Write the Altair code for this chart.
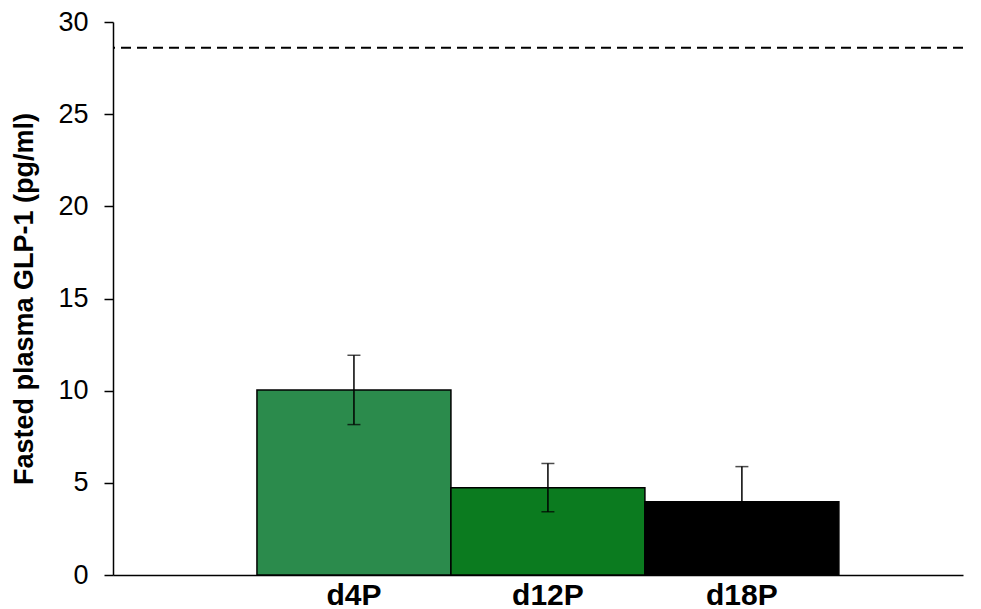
import altair as alt
import pandas as pd

# Fasted plasma GLP-1 by day of pregnancy
groups = ["d4P", "d12P", "d18P"]
glp1_mean = [10.04, 4.74, 3.98]
glp1_sem = [1.88, 1.31, 1.90]
bar_colors = ["#2b8b4c", "#0b7b1f", "#000000"]
reference_level = [28.6]

df = pd.DataFrame({"group": groups, "mean": glp1_mean, "sem": glp1_sem})
df["lo"] = df["mean"] - df["sem"]
df["hi"] = df["mean"] + df["sem"]
ref_df = pd.DataFrame({"level": reference_level})

FONT = "Liberation Sans"

x_enc = alt.X(
    "group:N",
    sort=groups,
    scale=alt.Scale(paddingInner=0, paddingOuter=0.691, align=0.537),
    axis=alt.Axis(
        title=None, labelAngle=0, ticks=False, labelFont=FONT, labelFontSize=30,
        labelFontWeight="bold", labelColor="black", labelPadding=5,
        domainColor="black", domainWidth=1.5,
    ),
)
y_scale = alt.Scale(domain=[0, 30], nice=False)

bars = alt.Chart(df).mark_bar(stroke="black", strokeWidth=1.5).encode(
    x=x_enc,
    y=alt.Y(
        "mean:Q",
        scale=y_scale,
        axis=alt.Axis(
            title="Fasted plasma GLP-1 (pg/ml)", values=[0, 5, 10, 15, 20, 25, 30],
            grid=False, tickColor="black", tickSize=9, tickWidth=1.5,
            domainColor="black", domainWidth=1.5,
            labelFont=FONT, labelFontSize=27, labelColor="black", labelPadding=16,
            titleFont=FONT, titleFontSize=27, titleFontWeight="bold",
            titleColor="black", titlePadding=19,
        ),
    ),
    color=alt.Color("group:N", scale=alt.Scale(domain=groups, range=bar_colors), legend=None),
)

whisker = alt.Chart(df).mark_rule(color="black", strokeWidth=1.5).encode(
    x=alt.X("group:N", sort=groups), y="lo:Q", y2="hi:Q"
)
cap_hi = alt.Chart(df).mark_tick(color="black", thickness=1.5, size=13, orient="horizontal").encode(
    x=alt.X("group:N", sort=groups), y="hi:Q"
)
cap_lo = alt.Chart(df).mark_tick(color="black", thickness=1.5, size=13, orient="horizontal").encode(
    x=alt.X("group:N", sort=groups), y="lo:Q"
)

ref_line = alt.Chart(ref_df).mark_rule(color="black", strokeWidth=2, strokeDash=[10, 6]).encode(
    y=alt.Y("level:Q", scale=y_scale)
)

chart = (
    alt.layer(bars, whisker, cap_hi, cap_lo, ref_line)
    .properties(
        width=850, height=553,
        autosize=alt.AutoSizeParams(type="none"),
        padding={"left": 113, "top": 22, "right": 18, "bottom": 34},
        background="white",
    )
    .configure_view(stroke=None)
)

chart.save("out.html", embed_options={"renderer": "svg", "actions": False})
